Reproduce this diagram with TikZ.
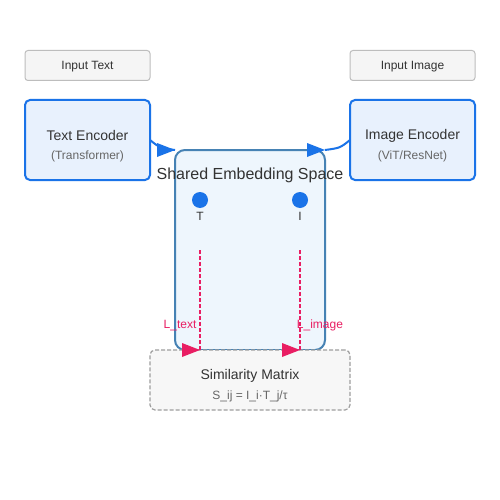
\documentclass[tikz,border=0pt]{standalone}
\usepackage{fontspec}
\setmainfont{Liberation Sans}
\definecolor{myblue}{HTML}{1A73E8}
\definecolor{encfill}{HTML}{E8F1FD}
\definecolor{shfill}{HTML}{EEF6FD}
\definecolor{shdraw}{HTML}{4682B4}
\definecolor{infill}{HTML}{F5F5F5}
\definecolor{indraw}{HTML}{BDBDBD}
\definecolor{simfill}{HTML}{F7F7F7}
\definecolor{simdraw}{HTML}{9E9E9E}
\definecolor{txt}{HTML}{333333}
\definecolor{sub}{HTML}{666666}
\definecolor{mypink}{HTML}{E91E63}
\tikzset{
  inbox/.style={draw=indraw, fill=infill, line width=1pt, rounded corners=3pt, minimum width=125pt, minimum height=30pt, inner sep=0pt, outer sep=0pt, font=\fontsize{12}{14}\selectfont, text=txt, text depth=0pt, text height=8.6pt},
  encbox/.style={draw=myblue, fill=encfill, line width=2pt, rounded corners=5pt, minimum width=125pt, minimum height=80pt, inner sep=0pt, outer sep=0pt},
  shbox/.style={draw=shdraw, fill=shfill, line width=2pt, rounded corners=10pt, minimum width=150pt, minimum height=200pt, inner sep=0pt, outer sep=0pt},
  simbox/.style={draw=simdraw, fill=simfill, line width=1.2pt, dash pattern=on 4pt off 2pt, rounded corners=5pt, minimum width=200pt, minimum height=60pt, inner sep=0pt, outer sep=0pt},
  title/.style={font=\fontsize{14}{16}\selectfont, text=txt, inner sep=0pt},
  subt/.style={font=\fontsize{12}{14}\selectfont, text=sub, inner sep=0pt},
  dot/.style={circle, fill=myblue, minimum size=16pt, inner sep=0pt},
  dotlab/.style={font=\fontsize{12}{14}\selectfont, text=txt, inner sep=0pt},
  conn/.style={draw=myblue, line width=2pt},
  loss/.style={draw=mypink, line width=2pt, dash pattern=on 4pt off 2pt},
  losslab/.style={font=\fontsize{12}{14}\selectfont, text=mypink, inner sep=0pt},
}
\begin{document}
\begin{tikzpicture}[x=1pt,y=-1pt]
\useasboundingbox[fill=white] (0,0) rectangle (500,500);
% input boxes
\node[inbox] (intext) at (87.5,65.5) {Input Text};
\node[inbox] (inimg) at (412.5,65.5) {Input Image};
% encoders
\node[encbox] (te) at (87.5,140) {};
\node[title] (tet) at (87.5,135.5) {Text Encoder};
\node[subt] (tes) at (87.5,156.5) {(Transformer)};
\node[encbox] (ie) at (412.5,140) {};
\node[title] (iet) at (412.5,135.5) {Image Encoder};
\node[subt] (ies) at (412.5,156.5) {(ViT/ResNet)};
% shared space
\node[shbox] (sh) at (250,250) {};
\node[font=\fontsize{16}{18}\selectfont, text=txt, inner sep=0pt] (sht) at (250,175.5) {Shared Embedding Space};
\node[dot] (dt) at (200,200) {};
\node[dot] (di) at (300,200) {};
\node[dotlab] (lt) at (200,216) {T};
\node[dotlab] (li) at (300,216) {I};
% similarity
\node[simbox] (sim) at (250,380) {};
\node[title] (simt) at (250,376) {Similarity Matrix};
\node[subt] (sims) at (250,396.5) {S\_ij = I\_i·T\_j/τ};
% encoder connectors
\coordinate (a1) at (175,150);
\coordinate (a2) at (325,150);
\draw[conn] (te.east) .. controls (160,148) .. (a1);
\fill[myblue] (a1) -- (157,143) -- (157,157) -- cycle;
\draw[conn] (ie.west) .. controls (340,148) .. (a2);
\fill[myblue] (a2) -- (307,143) -- (307,157) -- cycle;
% loss connectors
\coordinate (s1) at (200,250);
\coordinate (e1) at (200,350);
\coordinate (s2) at (300,250);
\coordinate (e2) at (300,350);
\draw[loss] (s1) -- (e1);
\draw[loss] (s2) -- (e2);
\fill[mypink] (e1) -- (182,343) -- (182,357) -- cycle;
\fill[mypink] (e2) -- (282,343) -- (282,357) -- cycle;
\node[losslab] (ltext) at (180,325.5) {L\_text};
\node[losslab] (limg) at (320,325.5) {L\_image};
\end{tikzpicture}
\end{document}
